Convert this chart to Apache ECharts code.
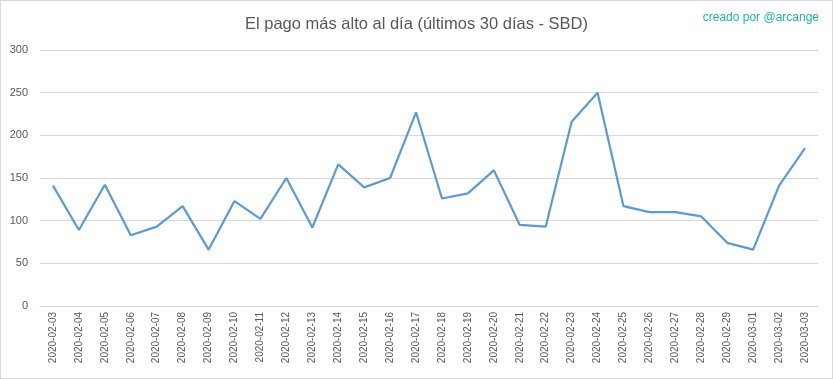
<!DOCTYPE html>
<html><head><meta charset="utf-8">
<script src="https://cdn.jsdelivr.net/npm/echarts@6/dist/echarts.min.js"></script>
<style>html,body{margin:0;padding:0;background:#fff}#c{width:831px;height:377px;border:1px solid #d9d9d9}</style>
</head><body><div id="c"></div>
<script>
const categories = ["2020-02-03","2020-02-04","2020-02-05","2020-02-06","2020-02-07","2020-02-08","2020-02-09","2020-02-10","2020-02-11","2020-02-12","2020-02-13","2020-02-14","2020-02-15","2020-02-16","2020-02-17","2020-02-18","2020-02-19","2020-02-20","2020-02-21","2020-02-22","2020-02-23","2020-02-24","2020-02-25","2020-02-26","2020-02-27","2020-02-28","2020-02-29","2020-03-01","2020-03-02","2020-03-03"];
const values = [141,89,142,83,93,117,66,123,102,150,92,166,139,150,227,126,132,159,95,93,216,250,117,110,110,105,74,66,141,185];
const titleText = "El pago más alto al día (últimos 30 días - SBD)";
const creditText = "creado por @arcange";
const chart = echarts.init(document.getElementById('c'));
chart.setOption({
  animation:false,
  textStyle:{fontFamily:'Liberation Sans'},
  title:[{text:titleText,left:'center',top:10,textStyle:{fontSize:16.5,fontWeight:'normal',color:'#595959',fontFamily:'Liberation Sans'}},
         {text:creditText,right:8,top:6,textStyle:{fontSize:12,fontWeight:'normal',color:'#1abc9c',fontFamily:'Liberation Sans'}}],
  grid:{left:39,right:14,top:49,bottom:72},
  xAxis:{type:'category',data:categories,boundaryGap:true,
    axisLine:{lineStyle:{color:'#d9d9d9'}},axisTick:{show:false},
    axisLabel:{rotate:90,color:'#595959',fontSize:10,margin:6,interval:0}},
  yAxis:{type:'value',min:0,max:300,interval:50,
    axisLine:{show:false},axisTick:{show:false},
    splitLine:{lineStyle:{color:'#d9d9d9'}},
    axisLabel:{color:'#595959',fontSize:11,margin:12}},
  series:[{type:'line',data:values,symbol:'none',lineStyle:{color:'#5b9bd5',width:2.2}}]
});
</script></body></html>
